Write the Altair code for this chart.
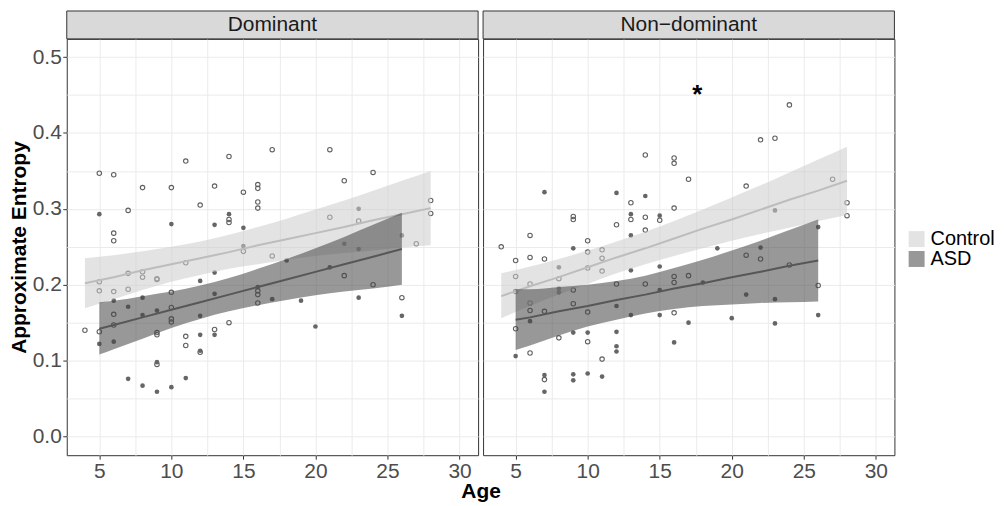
import altair as alt
import pandas as pd

FONT = "Liberation Sans"

# ---------------- data ----------------
# Dominant panel
dom_ctrl_age = [4, 5, 5, 5, 5, 6, 6, 6, 6, 6, 6, 7, 7, 7, 8, 8, 8, 9, 9, 9, 9, 9,
                10, 10, 10, 10, 10, 11, 11, 11, 11, 12, 12, 13, 13, 14, 14, 14, 14,
                15, 15, 16, 16, 16, 16, 16, 16, 16, 17, 17, 21, 21, 22, 22, 23,
                24, 24, 26, 27, 28, 28]
dom_ctrl_val = [0.140, 0.347, 0.204, 0.192, 0.138, 0.345, 0.268, 0.258, 0.191, 0.161, 0.147,
                0.298, 0.215, 0.194, 0.328, 0.217, 0.210, 0.208, 0.207, 0.137, 0.134, 0.095,
                0.328, 0.190, 0.170, 0.155, 0.151, 0.363, 0.229, 0.132, 0.120, 0.305, 0.111,
                0.330, 0.141, 0.369, 0.286, 0.282, 0.150, 0.322, 0.244,
                0.332, 0.327, 0.309, 0.301, 0.192, 0.187, 0.176, 0.378, 0.238,
                0.378, 0.289, 0.337, 0.212, 0.284, 0.348, 0.200, 0.183, 0.254, 0.311, 0.294]
dom_asd_age = [5, 5, 6, 6, 7, 7, 8, 8, 8, 9, 9, 9, 10, 10, 11, 12, 12, 12, 12,
               13, 13, 13, 13, 14, 15, 15, 16, 17, 18, 19, 20, 21, 22, 23, 23, 23, 26, 26]
dom_asd_val = [0.293, 0.122, 0.179, 0.125, 0.171, 0.076, 0.183, 0.160, 0.067, 0.166, 0.098, 0.059,
               0.280, 0.065, 0.077, 0.205, 0.159, 0.134, 0.113, 0.279, 0.216, 0.188, 0.134,
               0.293, 0.275, 0.251, 0.197, 0.181, 0.232, 0.179, 0.145, 0.223, 0.254,
               0.300, 0.247, 0.183, 0.265, 0.159]

# Non-dominant panel
nd_ctrl_age = [4, 5, 5, 5, 5, 6, 6, 6, 6, 6, 6, 7, 7, 7, 8, 8, 9, 9, 9, 9,
               10, 10, 10, 10, 10, 11, 11, 11, 11, 12, 12, 13, 13, 14, 14, 14, 14, 15,
               16, 16, 16, 16, 16, 16, 17, 17, 21, 21, 22, 22, 23, 24, 24, 26, 27, 28, 28]
nd_ctrl_val = [0.250, 0.232, 0.211, 0.191, 0.142, 0.265, 0.236, 0.201, 0.176, 0.166, 0.110,
               0.234, 0.165, 0.075, 0.208, 0.130, 0.290, 0.286, 0.193, 0.175,
               0.258, 0.243, 0.222, 0.164, 0.125, 0.246, 0.235, 0.218, 0.102, 0.279, 0.201,
               0.308, 0.286, 0.371, 0.289, 0.272, 0.201, 0.285,
               0.367, 0.360, 0.301, 0.211, 0.203, 0.163, 0.339, 0.212,
               0.330, 0.239, 0.391, 0.234, 0.393, 0.437, 0.226, 0.199, 0.339, 0.308, 0.291]
nd_asd_age = [5, 6, 7, 7, 7, 8, 8, 8, 9, 9, 9, 9, 10, 10, 11, 12, 12, 12, 12, 12,
              13, 13, 13, 13, 14, 15, 15, 15, 15, 16, 17, 18, 19, 20, 21, 22, 23, 23, 23, 26, 26]
nd_asd_val = [0.106, 0.152, 0.322, 0.081, 0.059, 0.223, 0.195, 0.190, 0.248, 0.137, 0.082, 0.074,
              0.137, 0.083, 0.079, 0.321, 0.172, 0.138, 0.119, 0.112,
              0.293, 0.265, 0.219, 0.160, 0.317, 0.291, 0.224, 0.193, 0.160, 0.124, 0.150,
              0.203, 0.248, 0.156, 0.187, 0.249, 0.298, 0.181, 0.149, 0.276, 0.160]

# fitted lines and confidence bands (read at sampled ages)
ctrl_band_age = [4, 6, 8, 10, 12, 14, 16, 18, 20, 22, 24, 26, 28]
asd_band_age = [5, 6, 8, 10, 12, 14, 16, 18, 20, 22, 24, 26]

dom_ctrl_fit = [0.202, 0.210, 0.219, 0.227, 0.235, 0.243, 0.252, 0.260, 0.268, 0.276, 0.285, 0.293, 0.301]
dom_ctrl_lo = [0.169, 0.181, 0.193, 0.204, 0.213, 0.221, 0.227, 0.233, 0.238, 0.242, 0.245, 0.249, 0.252]
dom_ctrl_hi = [0.235, 0.239, 0.244, 0.250, 0.257, 0.266, 0.276, 0.287, 0.299, 0.311, 0.324, 0.337, 0.350]
dom_asd_fit = [0.142, 0.147, 0.157, 0.167, 0.177, 0.187, 0.197, 0.207, 0.217, 0.227, 0.237, 0.247]
dom_asd_lo = [0.108, 0.115, 0.129, 0.143, 0.155, 0.165, 0.173, 0.180, 0.186, 0.191, 0.195, 0.200]
dom_asd_hi = [0.177, 0.179, 0.185, 0.191, 0.199, 0.209, 0.221, 0.234, 0.248, 0.263, 0.279, 0.295]

nd_ctrl_fit = [0.185, 0.198, 0.210, 0.223, 0.236, 0.248, 0.261, 0.274, 0.286, 0.299, 0.312, 0.324, 0.337]
nd_ctrl_lo = [0.156, 0.172, 0.187, 0.201, 0.215, 0.227, 0.238, 0.248, 0.258, 0.267, 0.275, 0.284, 0.292]
nd_ctrl_hi = [0.215, 0.224, 0.234, 0.245, 0.257, 0.270, 0.284, 0.299, 0.315, 0.331, 0.348, 0.365, 0.382]
nd_asd_fit = [0.154, 0.157, 0.165, 0.172, 0.180, 0.187, 0.195, 0.202, 0.210, 0.217, 0.225, 0.232]
nd_asd_lo = [0.114, 0.120, 0.133, 0.145, 0.154, 0.162, 0.168, 0.172, 0.174, 0.176, 0.177, 0.178]
nd_asd_hi = [0.194, 0.194, 0.197, 0.200, 0.205, 0.212, 0.222, 0.233, 0.245, 0.258, 0.272, 0.286]

panels = ["Dominant", "Non\u2212dominant"]
groups = ["Control", "ASD"]
star_age = [17.6]
star_val = [0.450]
star_text = ["*"]

x_grid = [5, 7.5, 10, 12.5, 15, 17.5, 20, 22.5, 25, 27.5, 30]
y_grid = [0, 0.05, 0.1, 0.15, 0.2, 0.25, 0.3, 0.35, 0.4, 0.45, 0.5]

# ---------------- chart ----------------
W, H = 413, 418
xs = alt.Scale(domain=[2.74, 31.29], nice=False, zero=False)
ys = alt.Scale(domain=[-0.0246, 0.524], nice=False, zero=False)

major_x = "datum.value % 5 === 0"
major_y = "abs(datum.value * 10 - round(datum.value * 10)) < 1e-6"

legend = alt.Legend(
    title=None, orient="none", legendX=843.3, legendY=191,
    symbolType="square", symbolSize=256, symbolOpacity=0.55, symbolStrokeWidth=0,
    labelFont=FONT, labelFontSize=20, labelColor="black", labelOffset=4, rowPadding=-4,
)
fill_scale = alt.Scale(domain=groups, range=["#CCCCCC", "#444444"])


def make_panel(name, ca, cv, aa, av, cfit, clo, chi, afit, alo, ahi, left):
    if left:
        xax = alt.Axis(values=x_grid, labelExpr=major_x + " ? datum.label : ''",
                       tickOpacity={"condition": {"test": "!(" + major_x + ")", "value": 0}, "value": 1},
                       title="Age", titleX=415.5, titleY=42, titleBaseline="alphabetic",
                       titleAlign="center", titleAnchor="middle")
        yax = alt.Axis(values=y_grid, labelExpr=major_y + " ? format(datum.value, '.1f') : ''",
                       tickOpacity={"condition": {"test": "!(" + major_y + ")", "value": 0}, "value": 1},
                       title="Approximate Entropy", titlePadding=2.5)
    else:
        xax = alt.Axis(values=x_grid, labelExpr=major_x + " ? datum.label : ''",
                       tickOpacity={"condition": {"test": "!(" + major_x + ")", "value": 0}, "value": 1},
                       title=None)
        yax = alt.Axis(values=y_grid, labels=False, ticks=False, title=None)

    X = alt.X("age:Q", scale=xs, axis=xax)
    pc = pd.DataFrame({"age": ca, "val": cv})
    pa = pd.DataFrame({"age": aa, "val": av})
    bc = pd.DataFrame({"age": ctrl_band_age, "val": cfit, "lo": clo, "hi": chi, "group": groups[0]})
    ba = pd.DataFrame({"age": asd_band_age, "val": afit, "lo": alo, "hi": ahi, "group": groups[1]})

    def Y(f):
        return alt.Y(f + ":Q", scale=ys, axis=yax)

    layers = [
        alt.Chart(pc).mark_point(filled=False, size=20, stroke="#606060", strokeWidth=1.1, opacity=1)
        .encode(x=X, y=Y("val")),
        alt.Chart(pa).mark_circle(size=22, color="#666666", opacity=1)
        .encode(x=X, y=Y("val")),
        alt.Chart(bc).mark_area(opacity=0.55, interpolate="monotone")
        .encode(x=X, y=Y("lo"), y2="hi:Q",
                fill=alt.Fill("group:N", scale=fill_scale, legend=legend)),
        alt.Chart(bc).mark_line(color="#BDBDBD", strokeWidth=2)
        .encode(x=X, y=Y("val")),
        alt.Chart(ba).mark_area(opacity=0.55, interpolate="monotone")
        .encode(x=X, y=Y("lo"), y2="hi:Q",
                fill=alt.Fill("group:N", scale=fill_scale, legend=legend)),
        alt.Chart(ba).mark_line(color="#575757", strokeWidth=2)
        .encode(x=X, y=Y("val")),
    ]
    if not left:
        st = pd.DataFrame({"age": star_age, "val": star_val, "t": star_text})
        layers.append(
            alt.Chart(st).mark_text(font=FONT, fontSize=26, fontWeight="bold", color="black",
                                    baseline="middle", align="center")
            .encode(x=X, y=Y("val"), text="t:N"))
    strip = pd.DataFrame({"panel": [name]})
    layers.append(
        alt.Chart(strip).mark_rect(fill="#D9D9D9", stroke="#333333", strokeWidth=1)
        .encode(x=alt.value(0), x2=alt.value(W), y=alt.value(-28), y2=alt.value(0)))
    layers.append(
        alt.Chart(strip).mark_text(font=FONT, fontSize=21, color="#1A1A1A", baseline="middle",
                                   align="center")
        .encode(x=alt.value(W / 2), y=alt.value(-14), text="panel:N"))
    return alt.layer(*layers).properties(width=W, height=H)


left = make_panel(panels[0], dom_ctrl_age, dom_ctrl_val, dom_asd_age, dom_asd_val,
                  dom_ctrl_fit, dom_ctrl_lo, dom_ctrl_hi, dom_asd_fit, dom_asd_lo, dom_asd_hi, True)
right = make_panel(panels[1], nd_ctrl_age, nd_ctrl_val, nd_asd_age, nd_asd_val,
                   nd_ctrl_fit, nd_ctrl_lo, nd_ctrl_hi, nd_asd_fit, nd_asd_lo, nd_asd_hi, False)

chart = (
    alt.hconcat(left, right, spacing=5, bounds="flush")
    .properties(padding={"left": 0, "top": 1, "right": 0, "bottom": 0}, background="white")
    .configure_view(stroke="#333333", strokeWidth=1)
    .configure_axis(domain=False, grid=True, gridColor="#EBEBEB", gridWidth=1,
                    tickColor="#333333", tickSize=4, labelPadding=1.5,
                    labelFont=FONT, labelFontSize=21, labelColor="#4D4D4D",
                    titleFont=FONT, titleFontSize=21, titleFontWeight="bold", titleColor="black")
)

chart.save("out.html", embed_options={"renderer": "svg", "actions": False})
